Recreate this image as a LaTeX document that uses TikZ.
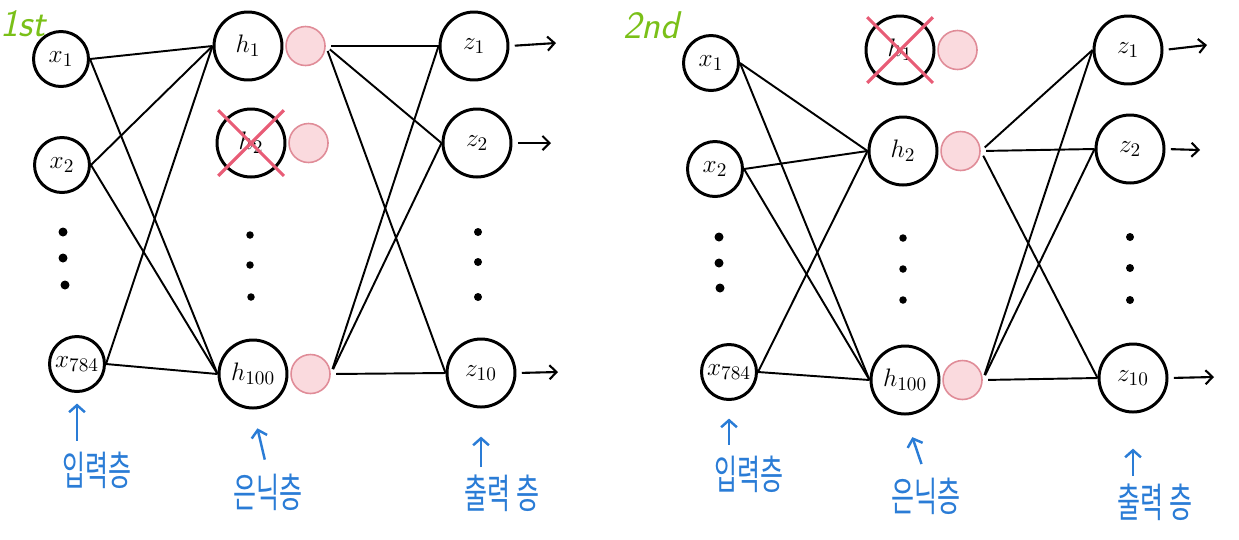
\documentclass[tikz,border=0pt]{standalone}
\usepackage{fontspec}
\newfontfamily\hangul{Noto Sans CJK KR}
\usetikzlibrary{positioning}
\usetikzlibrary{arrows.meta}

\definecolor{dropfill}{RGB}{250,218,222}
\definecolor{dropline}{RGB}{224,140,152}
\definecolor{crossred}{RGB}{232,92,118}
\definecolor{notegreen}{RGB}{122,192,24}
\definecolor{noteblue}{RGB}{42,124,214}

\tikzset{
  inneuron/.style={circle, draw, line width=1.7pt, minimum size=1.1cm, inner sep=0pt, font=\fontsize{15}{15}\selectfont},
  neuron/.style={circle, draw, line width=1.7pt, minimum size=1.36cm, inner sep=0pt, font=\fontsize{15}{15}\selectfont},
  dropnode/.style={circle, draw=dropline, fill=dropfill, line width=0.9pt, minimum size=0.78cm, inner sep=0pt},
  wire/.style={line width=1.1pt},
  xout/.style={crossred, line width=1.8pt, shorten <=-0.22cm, shorten >=-0.22cm},
  layername/.style={noteblue, font=\hangul\fontsize{23}{23}\selectfont, xscale=0.62, transform shape, inner sep=0pt},
  pointer/.style={noteblue, line width=1.4pt, -{Straight Barb[length=4pt,width=9pt]}},
  outarrow/.style={line width=1.2pt, shorten <=3pt, -{Straight Barb[length=4pt,width=8pt]}},
  roundtag/.style={notegreen, font=\sffamily\slshape\fontsize{22}{22}\selectfont, inner sep=0pt}
}

\begin{document}
\begin{tikzpicture}[x=0.02cm, y=-0.02cm]
    \useasboundingbox (0,0) rectangle (1239,539);

    % first pass
    \node[roundtag] (tagA) at (23,24) {1st};
    \node[inneuron] (ax1) at (61,59) {$x_1$};
    \node[inneuron] (ax2) at (62,165) {$x_2$};
    \node[inneuron] (ax784) at (77,364) {$x_{784}$};
    \fill (63,232) circle (0.09cm);
    \fill (63,258) circle (0.09cm);
    \fill (65,285) circle (0.09cm);

    \node[neuron] (ah1) at (248,46) {$h_1$};
    \node[neuron] (ah2) at (251,143) {$h_2$};
    \node[neuron] (ah100) at (253,374) {$h_{100}$};
    \node[dropnode, right=1pt of ah1] (ap1) {};
    \node[dropnode, right=1pt of ah2] (ap2) {};
    \node[dropnode, right=1pt of ah100] (ap100) {};
    \draw[xout] (ah2.north west) -- (ah2.south east);
    \draw[xout] (ah2.north east) -- (ah2.south west);
    \fill (250,235) circle (0.075cm);
    \fill (250,265) circle (0.075cm);
    \fill (251,297) circle (0.075cm);

    \node[neuron] (az1) at (474,46) {$z_1$};
    \node[neuron] (az2) at (477,143) {$z_2$};
    \node[neuron] (az10) at (481,373) {$z_{10}$};
    \fill (478,232) circle (0.08cm);
    \fill (478,262) circle (0.08cm);
    \fill (478,297) circle (0.08cm);

    \draw[wire] (ax1.east) -- (ah1.west);
    \draw[wire] (ax1.east) -- (ah100.west);
    \draw[wire] (ax2.east) -- (ah1.west);
    \draw[wire] (ax2.east) -- (ah100.west);
    \draw[wire] (ax784.east) -- (ah1.west);
    \draw[wire] (ax784.east) -- (ah100.west);
    \draw[wire, shorten <=3pt] (ap1.east) -- (az1.west);
    \draw[wire, shorten <=3pt] (ap1.east) -- (az2.west);
    \draw[wire, shorten <=3pt] (ap1.east) -- (az10.west);
    \draw[wire, shorten <=3pt] (ap100.east) -- (az1.west);
    \draw[wire, shorten <=3pt] (ap100.east) -- (az2.west);
    \draw[wire, shorten <=3pt] (ap100.east) -- (az10.west);

    \coordinate (ao1) at (556,43);
    \coordinate (ao2) at (551,143);
    \coordinate (ao10) at (558,372);
    \draw[outarrow] (az1.east) -- (ao1);
    \draw[outarrow] (az2.east) -- (ao2);
    \draw[outarrow] (az10.east) -- (ao10);

    \node[layername] (aIn) at (97,470) {입력층};
    \node[layername] (aHid) at (268,492) {은닉층};
    \node[layername] (aOut) at (502,493) {출력 층};
    \draw[pointer, shorten <=6pt, shorten >=6pt] (aIn.north -| ax784) -- (ax784.south);
    \draw[pointer, shorten <=8pt, shorten >=11pt] (aHid.north) -- (ah100.south);
    \draw[pointer, shorten <=4pt, shorten >=16pt] (aOut.north -| az10) -- (az10.south);

    % second pass
    \node[roundtag] (tagB) at (651,25) {2nd};
    \node[inneuron] (bx1) at (711,63) {$x_1$};
    \node[inneuron] (bx2) at (715,169) {$x_2$};
    \node[inneuron] (bx784) at (729,372) {$x_{784}$};
    \fill (719,237) circle (0.09cm);
    \fill (719,263) circle (0.09cm);
    \fill (720,288) circle (0.09cm);

    \node[neuron] (bh1) at (900,50) {$h_1$};
    \node[neuron] (bh2) at (903,151) {$h_2$};
    \node[neuron] (bh100) at (905,380) {$h_{100}$};
    \node[dropnode, right=1pt of bh1] (bp1) {};
    \node[dropnode, right=1pt of bh2] (bp2) {};
    \node[dropnode, right=1pt of bh100] (bp100) {};
    \draw[xout] (bh1.north west) -- (bh1.south east);
    \draw[xout] (bh1.north east) -- (bh1.south west);
    \fill (903,238) circle (0.075cm);
    \fill (903,269) circle (0.075cm);
    \fill (903,300) circle (0.075cm);

    \node[neuron] (bz1) at (1128,50) {$z_1$};
    \node[neuron] (bz2) at (1130,149) {$z_2$};
    \node[neuron] (bz10) at (1133,378) {$z_{10}$};
    \fill (1130,237) circle (0.08cm);
    \fill (1130,268) circle (0.08cm);
    \fill (1130,300) circle (0.08cm);

    \draw[wire] (bx1.east) -- (bh2.west);
    \draw[wire] (bx1.east) -- (bh100.west);
    \draw[wire] (bx2.east) -- (bh2.west);
    \draw[wire] (bx2.east) -- (bh100.west);
    \draw[wire] (bx784.east) -- (bh2.west);
    \draw[wire] (bx784.east) -- (bh100.west);
    \draw[wire, shorten <=3pt] (bp2.east) -- (bz1.west);
    \draw[wire, shorten <=3pt] (bp2.east) -- (bz2.west);
    \draw[wire, shorten <=3pt] (bp2.east) -- (bz10.west);
    \draw[wire, shorten <=3pt] (bp100.east) -- (bz1.west);
    \draw[wire, shorten <=3pt] (bp100.east) -- (bz2.west);
    \draw[wire, shorten <=3pt] (bp100.east) -- (bz10.west);

    \coordinate (bo1) at (1207,45);
    \coordinate (bo2) at (1200,150);
    \coordinate (bo10) at (1214,377);
    \draw[outarrow] (bz1.east) -- (bo1);
    \draw[outarrow] (bz2.east) -- (bo2);
    \draw[outarrow] (bz10.east) -- (bo10);

    \node[layername] (bIn) at (749,474) {입력층};
    \node[layername] (bHid) at (926,496) {은닉층};
    \node[layername] (bOut) at (1155,502) {출력 층};
    \draw[pointer, shorten <=6pt, shorten >=10pt] (bIn.north -| bx784) -- (bx784.south);
    \draw[pointer, shorten <=8pt, shorten >=13pt] (bHid.north) -- (bh100.south);
    \draw[pointer, shorten <=4pt, shorten >=20pt] (bOut.north -| bz10) -- (bz10.south);
\end{tikzpicture}
\end{document}
